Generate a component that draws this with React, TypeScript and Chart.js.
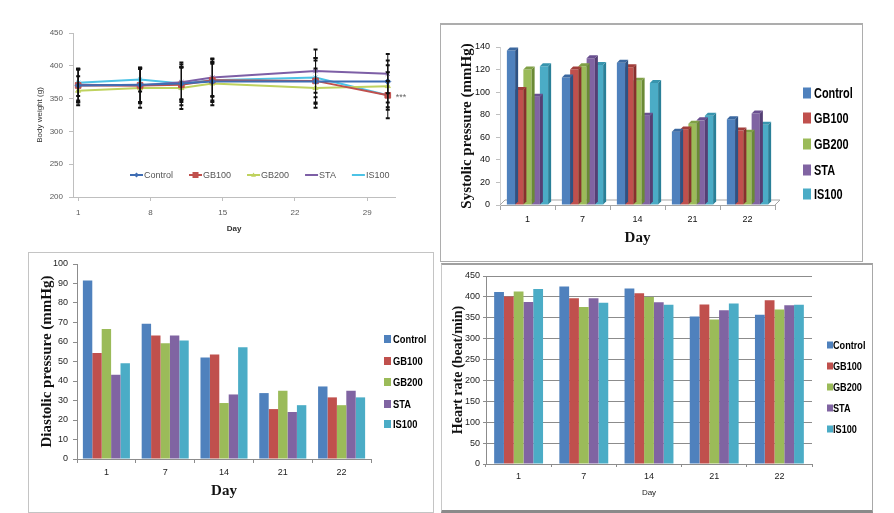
import React, { useEffect, useRef } from "react";
import { Chart, registerables } from "chart.js";

Chart.register(...registerables);

// ---------- shared ----------
const SERIES = ["Control", "GB100", "GB200", "STA", "IS100"];
const BAR_COLORS = ["#4F81BD", "#C0504D", "#9BBB59", "#8064A2", "#4BACC6"];
const BAR_SIDE = ["#2E5283", "#88302E", "#6A8A35", "#553F74", "#2A8098"];
const BAR_TOP = ["#3B68A0", "#A23E3B", "#80A046", "#6A5090", "#3895AE"];
const LINE_COLORS = ["#3F6DB3", "#C0504D", "#BFD25E", "#7D5FA6", "#4CC3E6"];
const LINE_MARKERS = ["rectRot", "rect", "triangle", "crossRot", "star"];

// ---------- body weight (line) ----------
const bwDays = [1, 7, 11, 14, 24, 31];
const bwTickDays = [1, 8, 15, 22, 29];
const bwControl = [370, 371, 373, 376, 376, 376];
const bwGB100 = [370, 370, 371, 378, 377, 355];
const bwGB200 = [362, 366, 366, 373, 366, 369];
const bwSTA = [371, 370, 375, 382, 392, 388];
const bwIS100 = [374, 379, 373, 378, 382, 355];
const bwControlSD = [25, 26, 24, 29, 32, 32];
const bwGB100SD = [26, 27, 31, 33, 35, 35];
const bwGB200SD = [22, 30, 32, 33, 30, 32];
const bwSTASD = [24, 25, 30, 28, 33, 30];
const bwIS100SD = [20, 18, 25, 25, 30, 22];
const bwMark = "***";

// ---------- bar charts ----------
const dayLabels = ["1", "7", "14", "21", "22"];

const sysControl = [137, 113, 126, 65, 76];
const sysGB100 = [102, 120, 122, 67, 66];
const sysGB200 = [120, 123, 110, 72, 64];
const sysSTA = [96, 130, 79, 75, 81];
const sysIS100 = [123, 124, 108, 79, 71];

const diaControl = [91.5, 69.3, 52, 33.8, 37.2];
const diaGB100 = [54.3, 63.3, 53.6, 25.6, 31.6];
const diaGB200 = [66.7, 59.4, 28.7, 35, 27.6];
const diaSTA = [43.2, 63.3, 33.1, 24.1, 35];
const diaIS100 = [49.1, 60.8, 57.3, 27.6, 31.6];

const hrControl = [412, 425, 420, 353, 357];
const hrGB100 = [401, 397, 409, 382, 392];
const hrGB200 = [413, 376, 400, 346, 370];
const hrSTA = [388, 397, 387, 368, 380];
const hrIS100 = [419, 386, 381, 384, 381];

const SERIF = '"Liberation Serif", "Times New Roman", serif';
const SANS = '"Liberation Sans", Arial, sans-serif';

// ---------- plugins ----------
function boxLegend(o: { x: number; textX: number; ys: number[]; bw: number; bh: number; font: string; squeeze: number }) {
  return {
    id: "boxLegend",
    afterDraw(chart: any) {
      const ctx = chart.ctx;
      ctx.save();
      ctx.font = o.font;
      ctx.textBaseline = "middle";
      ctx.textAlign = "left";
      chart.data.datasets.forEach((ds: any, i: number) => {
        const y = o.ys[i];
        ctx.fillStyle = ds.backgroundColor;
        ctx.fillRect(o.x, y - o.bh / 2, o.bw, o.bh);
        ctx.fillStyle = "#000";
        ctx.save();
        ctx.translate(o.textX, y + 1);
        ctx.scale(o.squeeze, 1);
        ctx.fillText(ds.label, 0, 0);
        ctx.restore();
      });
      ctx.restore();
    },
  };
}

function bars3d(d: number, floorD: number) {
  return {
    id: "bars3d",
    beforeDatasetsDraw(chart: any) {
      const { left, right, bottom } = chart.chartArea;
      const ctx = chart.ctx;
      ctx.save();
      ctx.strokeStyle = "#A6A6A6";
      ctx.lineWidth = 1;
      ctx.beginPath();
      ctx.moveTo(left, bottom);
      ctx.lineTo(left + floorD, bottom - floorD);
      ctx.lineTo(right + floorD, bottom - floorD);
      ctx.lineTo(right, bottom);
      ctx.stroke();
      ctx.restore();
    },
    afterDatasetDraw(chart: any, args: any) {
      const ctx = chart.ctx;
      const i = args.index;
      ctx.save();
      args.meta.data.forEach((el: any) => {
        const { x, y, base, width } = el.getProps(["x", "y", "base", "width"], true);
        const l = x - width / 2;
        const r = x + width / 2;
        ctx.fillStyle = BAR_SIDE[i];
        ctx.beginPath();
        ctx.moveTo(r, y);
        ctx.lineTo(r + d, y - d);
        ctx.lineTo(r + d, base - d);
        ctx.lineTo(r, base);
        ctx.closePath();
        ctx.fill();
        ctx.fillStyle = BAR_TOP[i];
        ctx.beginPath();
        ctx.moveTo(l, y);
        ctx.lineTo(l + d, y - d);
        ctx.lineTo(r + d, y - d);
        ctx.lineTo(r, y);
        ctx.closePath();
        ctx.fill();
      });
      ctx.restore();
    },
  };
}

const bwValues = [bwControl, bwGB100, bwGB200, bwSTA, bwIS100];
const bwSDs = [bwControlSD, bwGB100SD, bwGB200SD, bwSTASD, bwIS100SD];

function drawMarker(ctx: any, style: string, x: number, y: number, r: number, color: string) {
  ctx.fillStyle = color;
  ctx.beginPath();
  if (style === "rect") {
    ctx.fillRect(x - r, y - r, 2 * r, 2 * r);
  } else if (style === "rectRot") {
    ctx.moveTo(x, y - r);
    ctx.lineTo(x + r, y);
    ctx.lineTo(x, y + r);
    ctx.lineTo(x - r, y);
    ctx.closePath();
    ctx.fill();
  } else if (style === "triangle") {
    ctx.moveTo(x, y - r);
    ctx.lineTo(x + r, y + r * 0.7);
    ctx.lineTo(x - r, y + r * 0.7);
    ctx.closePath();
    ctx.fill();
  }
}

const bwPlugin = {
  id: "bwExtras",
  afterDatasetsDraw(chart: any) {
    const ctx = chart.ctx;
    const ys = chart.scales.y;
    ctx.save();
    ctx.strokeStyle = "#111";
    bwSDs.forEach((sd, i) => {
      const meta = chart.getDatasetMeta(i);
      meta.data.forEach((pt: any, j: number) => {
        const v = bwValues[i][j];
        const yt = ys.getPixelForValue(v + sd[j]);
        const yb = ys.getPixelForValue(v - sd[j]);
        const x = pt.x;
        ctx.lineWidth = 1;
        ctx.beginPath();
        ctx.moveTo(x, yt);
        ctx.lineTo(x, yb);
        ctx.stroke();
        ctx.lineWidth = 2;
        ctx.beginPath();
        ctx.moveTo(x - 2, yt);
        ctx.lineTo(x + 2, yt);
        ctx.moveTo(x - 2, yb);
        ctx.lineTo(x + 2, yb);
        ctx.stroke();
      });
    });
    const m = chart.getDatasetMeta(1).data;
    const last = m[m.length - 1];
    ctx.fillStyle = "#666";
    ctx.font = "9px " + SANS;
    ctx.textBaseline = "middle";
    ctx.textAlign = "left";
    ctx.fillText(bwMark, last.x + 8, last.y + 2);
    ctx.restore();
  },
  afterDraw(chart: any) {
    const ctx = chart.ctx;
    const { left, bottom } = chart.chartArea;
    ctx.save();
    ctx.font = "9px " + SANS;
    ctx.textBaseline = "middle";
    ctx.textAlign = "left";
    let x = left + 57;
    const y = bottom - 22;
    chart.data.datasets.forEach((ds: any, i: number) => {
      ctx.strokeStyle = LINE_COLORS[i];
      ctx.lineWidth = 2;
      ctx.beginPath();
      ctx.moveTo(x, y);
      ctx.lineTo(x + 13, y);
      ctx.stroke();
      drawMarker(ctx, LINE_MARKERS[i], x + 6.5, y, i === 1 ? 3 : 2.5, LINE_COLORS[i]);
      ctx.fillStyle = "#555";
      ctx.fillText(ds.label, x + 14, y + 0.5);
      x += 14 + ctx.measureText(ds.label).width + 16;
    });
    ctx.restore();
  },
};

// ---------- configs ----------
function lineConfig(): any {
  const tickFont = { family: SANS, size: 8 };
  return {
    type: "line",
    data: {
      datasets: SERIES.map((name, i) => ({
        label: name,
        data: bwDays.map((d, j) => ({ x: d, y: bwValues[i][j] })),
        borderColor: LINE_COLORS[i],
        backgroundColor: LINE_COLORS[i],
        borderWidth: 2,
        pointStyle: LINE_MARKERS[i],
        pointRadius: i === 1 ? 4 : 3,
        pointBorderWidth: 1,
        tension: 0,
      })),
    },
    options: {
      responsive: false,
      animation: false,
      layout: { padding: { left: 30, right: 45, top: 33, bottom: 14 } },
      plugins: { legend: { display: false }, tooltip: { enabled: false } },
      scales: {
        x: {
          type: "linear",
          min: 0.5,
          max: 31.7,
          afterBuildTicks: (s: any) => {
            s.ticks = bwTickDays.map((v) => ({ value: v }));
          },
          afterFit: (s: any) => {
            s.height = 39;
          },
          ticks: { font: tickFont, color: "#595959", padding: 7 },
          grid: { drawOnChartArea: false, tickLength: 4, color: "#BFBFBF" },
          border: { color: "#BFBFBF" },
          title: {
            display: true,
            text: "Day",
            color: "#333",
            font: { family: SANS, size: 8, weight: "bold" },
            padding: { top: 0, bottom: 2 },
          },
        },
        y: {
          min: 200,
          max: 450,
          afterFit: (s: any) => {
            s.width = 43;
          },
          ticks: { stepSize: 50, font: tickFont, color: "#595959", padding: 6 },
          grid: { drawOnChartArea: false, tickLength: 4, color: "#BFBFBF" },
          border: { color: "#BFBFBF" },
          title: {
            display: true,
            text: "Body weight (g)",
            color: "#333",
            font: { family: SANS, size: 8 },
            padding: { top: 5, bottom: 0 },
          },
        },
      },
    },
    plugins: [bwPlugin],
  };
}

function barDatasets(values: number[][], catPct: number) {
  return SERIES.map((name, i) => ({
    label: name,
    data: values[i],
    backgroundColor: BAR_COLORS[i],
    borderWidth: 0,
    categoryPercentage: catPct,
    barPercentage: 1,
  }));
}

function sysConfig(): any {
  return {
    type: "bar",
    data: {
      labels: dayLabels,
      datasets: barDatasets([sysControl, sysGB100, sysGB200, sysSTA, sysIS100], 0.75),
    },
    options: {
      responsive: false,
      animation: false,
      layout: { padding: { left: 10, right: 86, top: 22, bottom: 10 } },
      plugins: { legend: { display: false }, tooltip: { enabled: false } },
      scales: {
        x: {
          afterFit: (s: any) => {
            s.height = 46;
          },
          ticks: { font: { family: SANS, size: 9 }, color: "#111", padding: 4 },
          grid: { drawOnChartArea: false, tickLength: 5, color: "#A6A6A6", offset: true },
          border: { color: "#A6A6A6" },
          title: {
            display: true,
            text: "Day",
            color: "#111",
            font: { family: SERIF, size: 15, weight: "bold" },
            padding: { top: 0, bottom: 4 },
          },
        },
        y: {
          min: 0,
          max: 140,
          afterFit: (s: any) => {
            s.width = 49;
          },
          ticks: { stepSize: 20, font: { family: SANS, size: 9 }, color: "#111", padding: 6 },
          grid: { drawOnChartArea: false, tickLength: 4, color: "#BFBFBF" },
          border: { color: "#D0D0D0" },
          title: {
            display: true,
            text: "Systolic pressure (mmHg)",
            color: "#111",
            font: { family: SERIF, size: 15, weight: "bold" },
            padding: { top: 7, bottom: 0 },
          },
        },
      },
    },
    plugins: [
      bars3d(3, 5),
      boxLegend({ x: 362, textX: 373, ys: [68, 93, 119, 145, 169], bw: 8, bh: 11, font: "bold 14px " + SANS, squeeze: 0.78 }),
    ],
  };
}

function diaConfig(): any {
  return {
    type: "bar",
    data: {
      labels: dayLabels,
      datasets: barDatasets([diaControl, diaGB100, diaGB200, diaSTA, diaIS100], 0.8),
    },
    options: {
      responsive: false,
      animation: false,
      layout: { padding: { left: 4, right: 61, top: 11, bottom: 8 } },
      plugins: { legend: { display: false }, tooltip: { enabled: false } },
      scales: {
        x: {
          afterFit: (s: any) => {
            s.height = 44;
          },
          ticks: { font: { family: SANS, size: 9 }, color: "#222", padding: 4 },
          grid: { drawOnChartArea: false, tickLength: 4, color: "#8C8C8C", offset: true },
          border: { color: "#8C8C8C" },
          title: {
            display: true,
            text: "Day",
            color: "#111",
            font: { family: SERIF, size: 15, weight: "bold" },
            padding: { top: 0, bottom: 3 },
          },
        },
        y: {
          min: 0,
          max: 100,
          afterFit: (s: any) => {
            s.width = 44;
          },
          ticks: { stepSize: 10, font: { family: SANS, size: 9 }, color: "#222", padding: 5 },
          grid: { drawOnChartArea: false, tickLength: 4, color: "#8C8C8C" },
          border: { color: "#8C8C8C" },
          title: {
            display: true,
            text: "Diastolic pressure (mmHg)",
            color: "#111",
            font: { family: SERIF, size: 15, weight: "bold" },
            padding: { top: 5, bottom: 0 },
          },
        },
      },
    },
    plugins: [
      boxLegend({ x: 355, textX: 364, ys: [86, 108, 129, 151, 171], bw: 7, bh: 8, font: "bold 11px " + SANS, squeeze: 0.85 }),
    ],
  };
}

function hrConfig(): any {
  return {
    type: "bar",
    data: {
      labels: dayLabels,
      datasets: barDatasets([hrControl, hrGB100, hrGB200, hrSTA, hrIS100], 0.75),
    },
    options: {
      responsive: false,
      animation: false,
      layout: { padding: { left: 3, right: 59, top: 11, bottom: 9 } },
      plugins: { legend: { display: false }, tooltip: { enabled: false } },
      scales: {
        x: {
          afterFit: (s: any) => {
            s.height = 37;
          },
          ticks: { font: { family: SANS, size: 9 }, color: "#222", padding: 4 },
          grid: { drawOnChartArea: false, tickLength: 3, color: "#8C8C8C", offset: true },
          border: { color: "#8C8C8C" },
          title: {
            display: true,
            text: "Day",
            color: "#222",
            font: { family: SANS, size: 8 },
            padding: { top: 0, bottom: 3 },
          },
        },
        y: {
          min: 0,
          max: 450,
          afterFit: (s: any) => {
            s.width = 41;
          },
          ticks: { stepSize: 50, font: { family: SANS, size: 9 }, color: "#222", padding: 3 },
          grid: { drawOnChartArea: true, tickLength: 3, color: "#8C8C8C" },
          border: { color: "#8C8C8C" },
          title: {
            display: true,
            text: "Heart rate (beat/min)",
            color: "#111",
            font: { family: SERIF, size: 14, weight: "bold" },
            padding: { top: 5, bottom: 0 },
          },
        },
      },
    },
    plugins: [
      boxLegend({ x: 385, textX: 391, ys: [80, 101, 122, 143, 164], bw: 6, bh: 7, font: "bold 11px " + SANS, squeeze: 0.83 }),
    ],
  };
}

// ---------- components ----------
function ChartCanvas(props: { left: number; top: number; width: number; height: number; make: () => any }) {
  const ref = useRef<HTMLCanvasElement | null>(null);
  useEffect(() => {
    const chart = new Chart(ref.current as HTMLCanvasElement, props.make());
    return () => chart.destroy();
  }, []);
  return (
    <canvas
      ref={ref}
      width={props.width}
      height={props.height}
      style={{ position: "absolute", left: props.left, top: props.top, width: props.width, height: props.height }}
    />
  );
}

export default function App() {
  return (
    <div style={{ position: "absolute", left: 0, top: 0, width: 894, height: 513, background: "#fff", overflow: "hidden" }}>
      <div style={{ position: "absolute", left: 440, top: 23, width: 423, height: 239, boxSizing: "border-box", border: "1px solid #ADADAD", borderTopWidth: 2 }} />
      <div style={{ position: "absolute", left: 28, top: 252, width: 406, height: 261, boxSizing: "border-box", border: "1px solid #C4C4C4" }} />
      <div style={{ position: "absolute", left: 441, top: 263, width: 432, height: 250, boxSizing: "border-box", borderTop: "2px solid #A0A0A0", borderLeft: "1px solid #C8C8C8", borderRight: "1px solid #A8A8A8", borderBottom: "3px solid #8A8A8A" }} />
      <ChartCanvas left={0} top={0} width={440} height={250} make={lineConfig} />
      <ChartCanvas left={441} top={25} width={420} height={236} make={sysConfig} />
      <ChartCanvas left={29} top={253} width={403} height={258} make={diaConfig} />
      <ChartCanvas left={442} top={265} width={429} height={245} make={hrConfig} />
    </div>
  );
}
